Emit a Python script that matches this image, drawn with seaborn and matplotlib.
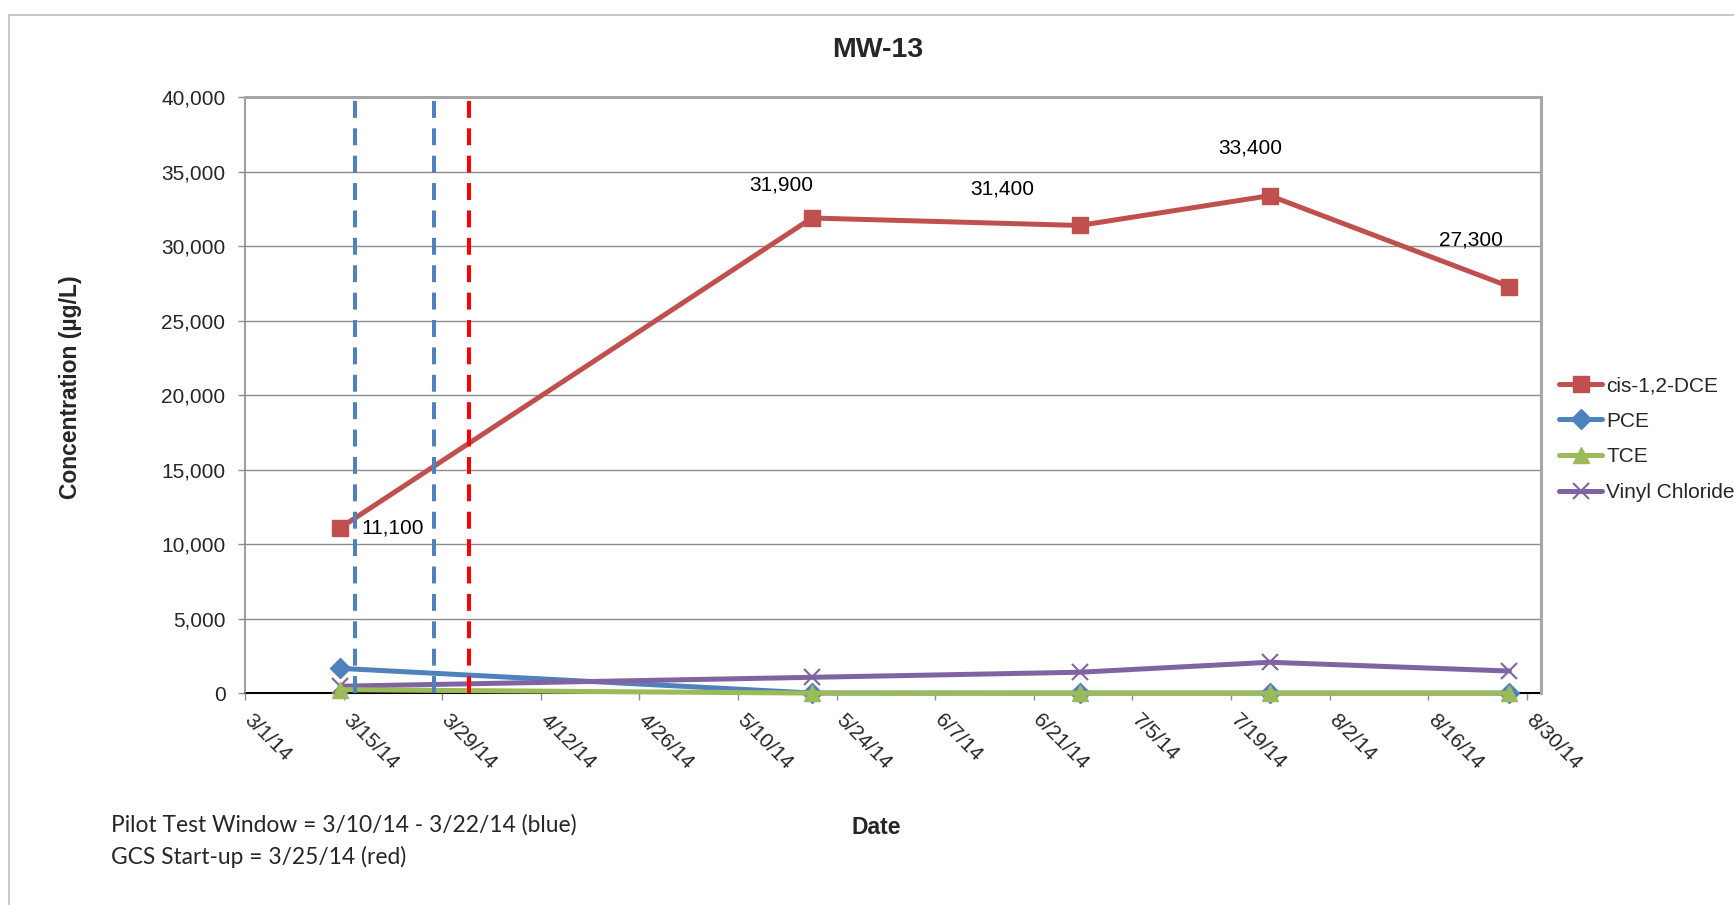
import numpy as np
import pandas as pd
import matplotlib
matplotlib.use("Agg")
import matplotlib.pyplot as plt
import matplotlib.ticker as mticker
import matplotlib.patches as mpatches
import seaborn as sns

# ---- data -------------------------------------------------------------
sample_dates = pd.to_datetime(["2014-03-14", "2014-05-20", "2014-06-27",
                               "2014-07-24", "2014-08-27"])
cis_dce = [11100, 31900, 31400, 33400, 27300]
pce = [1680, 25, 20, 20, 20]
tce = [250, 20, 15, 15, 15]
vinyl_chloride = [480, 1080, 1420, 2090, 1500]

series_names = ["cis-1,2-DCE", "PCE", "TCE", "Vinyl Chloride"]
cis_labels = ["11,100", "31,900", "31,400", "33,400", "27,300"]

axis_start = pd.Timestamp("2014-03-01")
axis_end = pd.Timestamp("2014-09-01")
tick_dates = pd.date_range("2014-03-01", "2014-08-30", freq="14D")

pilot_lines = pd.to_datetime(["2014-03-16 15:00", "2014-03-27 21:00"])
startup_line = pd.Timestamp("2014-04-01 21:00")

note_lines = ["Pilot Test Window = 3/10/14 - 3/22/14 (blue)",
              "GCS Start-up = 3/25/14 (red)"]

# ---- style ------------------------------------------------------------
sns.set_style("white")
plt.rcParams["font.family"] = ["Liberation Sans", "DejaVu Sans"]

RED = "#C0504D"
BLUE = "#4F81BD"
GREEN = "#9BBB59"
PURPLE = "#8064A2"

W, H = 1734, 905
fig = plt.figure(figsize=(W / 100, H / 100), dpi=100)
fig.patch.set_facecolor("white")

# chart-area frame
fig.add_artist(mpatches.Rectangle((9 / W, -0.1), 1.2, 1 - 15.5 / H + 0.1,
                                  transform=fig.transFigure, fill=False,
                                  edgecolor="#BFBFBF", linewidth=1.2))

left, right, top, bottom = 244.9, 1541, 97.3, 693.4
ax = fig.add_axes([left / W, 1 - bottom / H, (right - left) / W, (bottom - top) / H])

# samples sit in the middle of their day on the date axis
plot_dates = sample_dates + pd.Timedelta(hours=12)

# ---- series -----------------------------------------------------------
specs = [
    ("PCE", pce, BLUE, "D", 10, 3),
    ("Vinyl Chloride", vinyl_chloride, PURPLE, "x", 12, 4),
    ("TCE", tce, GREEN, "^", 12, 5),
    ("cis-1,2-DCE", cis_dce, RED, "s", 12, 6),
]
handles = {}
for name, vals, col, mk, ms, z in specs:
    frame = pd.DataFrame({"date": plot_dates, "value": vals})
    sns.lineplot(data=frame, x="date", y="value", ax=ax, color=col,
                 linewidth=3.6, marker=mk, markersize=ms,
                 markeredgecolor=col, markerfacecolor=col,
                 markeredgewidth=1.5 if mk == "x" else 1,
                 zorder=z, label=name, clip_on=False)
    handles[name] = ax.get_lines()[-1]

# value labels on cis-1,2-DCE
label_offsets = [(21, 0, "left"), (-31, 33, "center"), (-77, 36, "center"),
                 (-20, 48, "center"), (-38, 47, "center")]
for d, v, txt, (dx, dy, ha) in zip(plot_dates, cis_dce, cis_labels, label_offsets):
    ax.annotate(txt, (d, v), xytext=(dx * 0.72, dy * 0.72),
                textcoords="offset points", ha=ha, va="center",
                fontsize=15, color="black", zorder=8)

# pilot test window and start-up markers
for d in pilot_lines:
    ax.axvline(d, ymin=0, ymax=1.003, color=BLUE, linewidth=2.9,
               linestyle=(0, (4.2, 2.6)), zorder=9, clip_on=False)
ax.axvline(startup_line, ymin=0, ymax=1.003, color="#FF0000", linewidth=2.9,
           linestyle=(0, (4.2, 2.6)), zorder=9, clip_on=False)

# ---- axes -------------------------------------------------------------
ax.set_xlim(axis_start, axis_end)
ax.set_ylim(0, 40000)
ax.set_yticks(np.arange(0, 40001, 5000))
ax.yaxis.set_major_formatter(mticker.FuncFormatter(lambda v, p: f"{int(v):,}"))
ax.set_xticks(tick_dates)
ax.set_xticklabels([])
# slanted date labels hanging just right of each tick
for d in tick_dates:
    ax.annotate(f"{d.month}/{d.day}/{d.strftime('%y')}", (d, 0),
                xycoords=("data", "axes fraction"), xytext=(6.5, -12.5),
                textcoords="offset points", rotation=-45, ha="left", va="top",
                rotation_mode="anchor", fontsize=15, annotation_clip=False)
ax.grid(axis="y", color="#8C8C8C", linewidth=1)
ax.grid(axis="x", visible=False)
ax.set_axisbelow(True)
ax.tick_params(axis="x", length=5, width=1, color="#8C8C8C", pad=9,
               labelsize=15, bottom=True)
ax.tick_params(axis="y", length=5, width=1, color="#8C8C8C", pad=9,
               labelsize=15, left=True)
ax.set_xlabel("")
ax.set_ylabel("")
for s in ("top", "right"):
    ax.spines[s].set_color("#A6A6A6")
    ax.spines[s].set_linewidth(2.2)
ax.spines["left"].set_color("#8C8C8C")
ax.spines["left"].set_linewidth(1.2)
ax.spines["bottom"].set_color("black")
ax.spines["bottom"].set_linewidth(1.5)
ax.spines["bottom"].set_zorder(2)

# ---- legend -----------------------------------------------------------
ax.legend([handles[n] for n in series_names], series_names,
          loc="upper left", bbox_to_anchor=(1559 / W, 1 - 376 / H),
          bbox_transform=fig.transFigure, frameon=False, fontsize=15,
          handlelength=2.07, handletextpad=0.2, labelspacing=0.8,
          borderpad=0, borderaxespad=0)

# ---- text -------------------------------------------------------------
fig.text(878 / W, 1 - 50 / H, "MW-13", ha="center", va="center",
         fontsize=20.5, fontweight="bold")
fig.text(70 / W, 1 - 387 / H, "Concentration (µg/L)", rotation=90,
         ha="center", va="center", fontsize=16.5, fontweight="bold")
fig.text(876 / W, 1 - 828 / H, "Date", ha="center", va="center",
         fontsize=16.5, fontweight="bold")
for i, line in enumerate(note_lines):
    fig.text(110.6 / W, 1 - (825 + 32 * i) / H, line, ha="left", va="center",
             fontsize=16.4, family=["Lato", "DejaVu Sans"])

fig.savefig("out.png", dpi=100, facecolor="white")
